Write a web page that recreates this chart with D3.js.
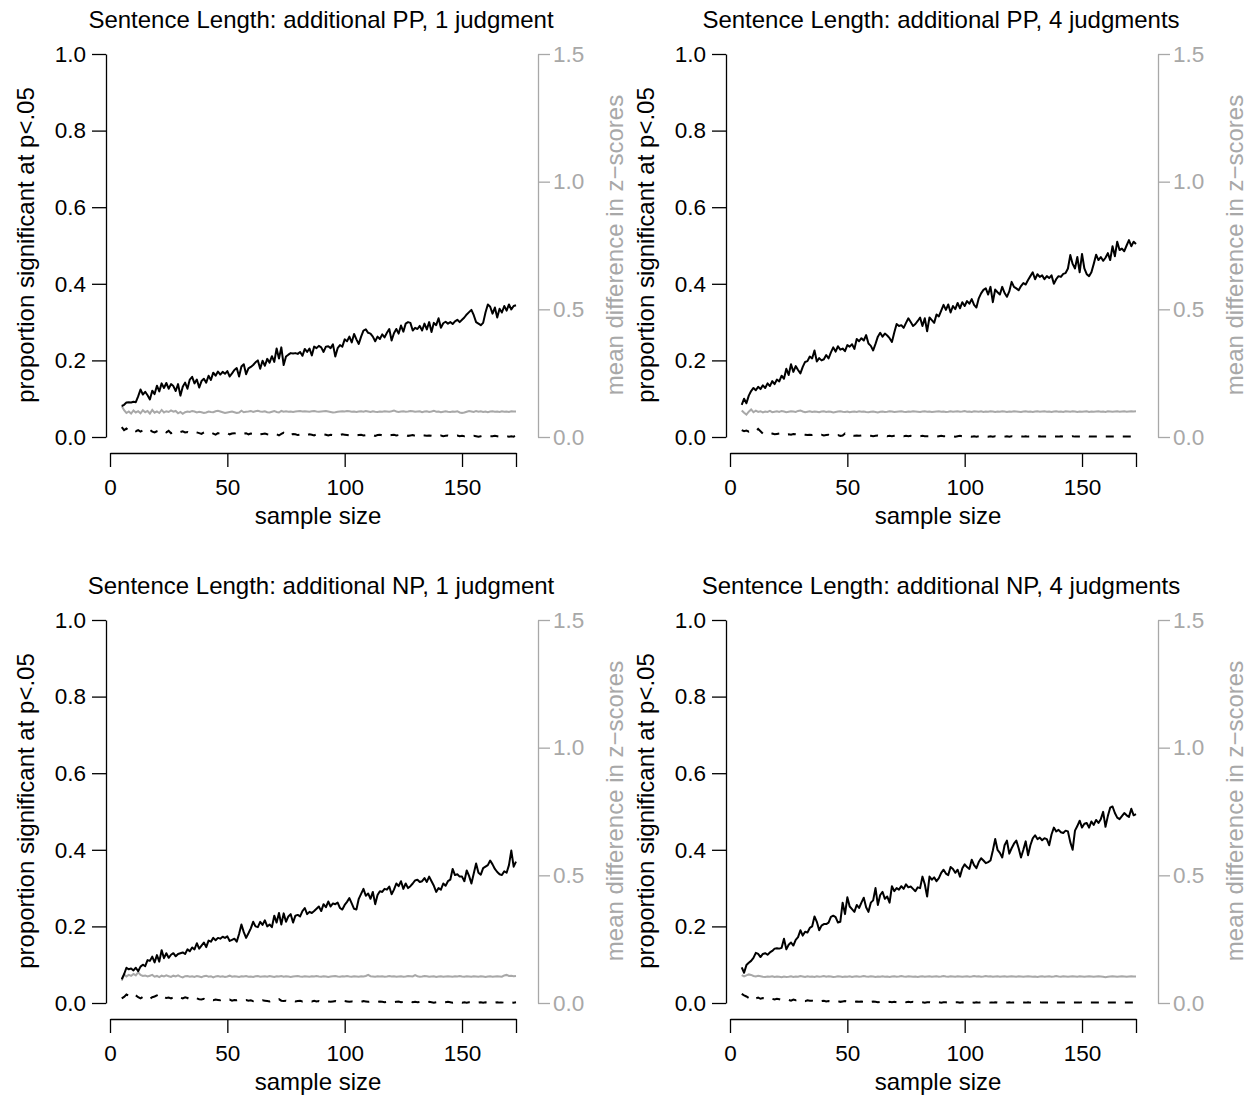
<!DOCTYPE html>
<html>
<head>
<meta charset="utf-8">
<script src="https://cdn.jsdelivr.net/npm/d3@7"></script>
<style>
  body { margin: 0; background: #fff; }
  text { font-family: "Liberation Sans", Arial, Helvetica, sans-serif; }
</style>
</head>
<body>
<script>
// sample sizes run 5..173 in every panel
const sampleSizes = d3.range(5, 174);

const titles = [
    "Sentence Length: additional PP, 1 judgment",
    "Sentence Length: additional PP, 4 judgments",
    "Sentence Length: additional NP, 1 judgment",
    "Sentence Length: additional NP, 4 judgments"
];

const leftTicks = [0, 0.2, 0.4, 0.6, 0.8, 1.0];
const rightTicks = [0, 0.5, 1.0, 1.5];
const xTicks = [0, 50, 100, 150, 173];

// proportion significant (black solid)
const pp1Sig = [
    0.081, 0.084, 0.090, 0.091, 0.090, 0.092, 0.091, 0.106, 0.124, 0.111,
    0.118, 0.109, 0.098, 0.121, 0.112, 0.134, 0.119, 0.140, 0.128, 0.141,
    0.126, 0.138, 0.133, 0.120, 0.138, 0.108, 0.131, 0.142, 0.126, 0.150,
    0.157, 0.140, 0.150, 0.129, 0.146, 0.152, 0.142, 0.160, 0.149, 0.168,
    0.160, 0.171, 0.163, 0.170, 0.165, 0.172, 0.158, 0.166, 0.175, 0.180,
    0.158, 0.184, 0.190, 0.164, 0.179, 0.183, 0.188, 0.195, 0.200, 0.178,
    0.199, 0.186, 0.204, 0.194, 0.211, 0.196, 0.231, 0.205, 0.234, 0.188,
    0.210, 0.215, 0.219, 0.218, 0.219, 0.217, 0.222, 0.212, 0.230, 0.222,
    0.231, 0.213, 0.236, 0.232, 0.238, 0.234, 0.222, 0.236, 0.237, 0.232,
    0.242, 0.210, 0.232, 0.240, 0.236, 0.255, 0.250, 0.262, 0.247, 0.269,
    0.255, 0.243, 0.262, 0.278, 0.281, 0.272, 0.270, 0.262, 0.250, 0.262,
    0.256, 0.268, 0.260, 0.272, 0.282, 0.252, 0.271, 0.282, 0.270, 0.291,
    0.275, 0.296, 0.300, 0.298, 0.278, 0.285, 0.282, 0.290, 0.278, 0.296,
    0.281, 0.300, 0.274, 0.298, 0.292, 0.310, 0.285, 0.297, 0.301, 0.296,
    0.300, 0.295, 0.302, 0.306, 0.300, 0.306, 0.312, 0.320, 0.326, 0.332,
    0.318, 0.300, 0.296, 0.292, 0.298, 0.325, 0.346, 0.340, 0.322, 0.338,
    0.312, 0.335, 0.325, 0.342, 0.330, 0.346, 0.333, 0.342, 0.344
];
const pp4Sig = [
    0.084, 0.100, 0.088, 0.108, 0.120, 0.128, 0.122, 0.131, 0.125, 0.135,
    0.128, 0.140, 0.133, 0.146, 0.138, 0.150, 0.145, 0.160, 0.152, 0.178,
    0.162, 0.190, 0.170, 0.185, 0.175, 0.166, 0.183, 0.196, 0.198, 0.210,
    0.205, 0.226, 0.197, 0.206, 0.200, 0.203, 0.214, 0.205, 0.221, 0.234,
    0.223, 0.237, 0.228, 0.231, 0.224, 0.240, 0.236, 0.242, 0.230, 0.256,
    0.250, 0.258, 0.252, 0.266, 0.244, 0.238, 0.226, 0.243, 0.262, 0.272,
    0.262, 0.270, 0.265, 0.258, 0.248, 0.273, 0.295, 0.290, 0.292, 0.285,
    0.298, 0.310, 0.300, 0.290, 0.295, 0.303, 0.312, 0.290, 0.310, 0.276,
    0.312, 0.305, 0.298, 0.320, 0.315, 0.330, 0.345, 0.332, 0.346, 0.325,
    0.342, 0.334, 0.350, 0.336, 0.352, 0.342, 0.355, 0.348, 0.360, 0.345,
    0.338, 0.362, 0.375, 0.384, 0.388, 0.372, 0.392, 0.352, 0.385, 0.378,
    0.372, 0.392, 0.376, 0.366, 0.380, 0.405, 0.392, 0.388, 0.383, 0.394,
    0.402, 0.398, 0.410, 0.420, 0.430, 0.412, 0.425, 0.418, 0.422, 0.412,
    0.420, 0.415, 0.422, 0.400, 0.412, 0.420, 0.418, 0.426, 0.428, 0.440,
    0.475, 0.452, 0.440, 0.470, 0.430, 0.478, 0.440, 0.425, 0.420, 0.430,
    0.452, 0.476, 0.462, 0.470, 0.460, 0.468, 0.480, 0.462, 0.498, 0.472,
    0.510, 0.488, 0.492, 0.485, 0.500, 0.514, 0.498, 0.510, 0.504
];
const np1Sig = [
    0.062, 0.075, 0.092, 0.088, 0.090, 0.085, 0.092, 0.083, 0.095, 0.100,
    0.096, 0.112, 0.110, 0.121, 0.106, 0.125, 0.108, 0.138, 0.117, 0.130,
    0.118, 0.126, 0.130, 0.122, 0.128, 0.130, 0.132, 0.128, 0.140, 0.135,
    0.145, 0.140, 0.156, 0.142, 0.150, 0.158, 0.146, 0.163, 0.160, 0.170,
    0.164, 0.170, 0.168, 0.173, 0.170, 0.174, 0.162, 0.165, 0.168, 0.160,
    0.180, 0.205, 0.185, 0.170, 0.182, 0.195, 0.212, 0.200, 0.198, 0.212,
    0.204, 0.216, 0.200, 0.205, 0.198, 0.228, 0.210, 0.235, 0.205, 0.234,
    0.212, 0.226, 0.232, 0.210, 0.228, 0.230, 0.226, 0.240, 0.248, 0.232,
    0.238, 0.235, 0.240, 0.246, 0.252, 0.240, 0.258, 0.250, 0.265, 0.252,
    0.260, 0.258, 0.262, 0.248, 0.244, 0.256, 0.264, 0.274, 0.260, 0.246,
    0.244, 0.272, 0.285, 0.298, 0.280, 0.286, 0.272, 0.290, 0.258, 0.282,
    0.292, 0.290, 0.298, 0.296, 0.304, 0.284, 0.296, 0.312, 0.305, 0.318,
    0.298, 0.312, 0.300, 0.305, 0.312, 0.320, 0.322, 0.316, 0.318, 0.326,
    0.316, 0.330, 0.318, 0.306, 0.290, 0.300, 0.296, 0.312, 0.306, 0.318,
    0.322, 0.350, 0.334, 0.336, 0.330, 0.330, 0.318, 0.346, 0.332, 0.312,
    0.338, 0.364, 0.340, 0.335, 0.352, 0.356, 0.360, 0.372, 0.362, 0.350,
    0.342, 0.336, 0.334, 0.344, 0.340, 0.360, 0.398, 0.356, 0.369
];
const np4Sig = [
    0.093, 0.079, 0.099, 0.105, 0.110, 0.118, 0.131, 0.128, 0.120, 0.128,
    0.130, 0.126, 0.132, 0.136, 0.142, 0.143, 0.142, 0.144, 0.168, 0.140,
    0.152, 0.158, 0.150, 0.165, 0.172, 0.190, 0.176, 0.186, 0.184, 0.196,
    0.200, 0.226, 0.212, 0.190, 0.202, 0.206, 0.206, 0.210, 0.225, 0.228,
    0.224, 0.210, 0.212, 0.262, 0.232, 0.276, 0.252, 0.245, 0.238, 0.256,
    0.248, 0.262, 0.275, 0.250, 0.238, 0.262, 0.268, 0.300, 0.256, 0.282,
    0.290, 0.272, 0.278, 0.262, 0.305, 0.292, 0.300, 0.296, 0.305, 0.298,
    0.310, 0.302, 0.304, 0.298, 0.292, 0.302, 0.300, 0.330, 0.310, 0.278,
    0.330, 0.322, 0.328, 0.318, 0.326, 0.340, 0.348, 0.338, 0.334, 0.355,
    0.350, 0.340, 0.348, 0.330, 0.352, 0.362, 0.355, 0.350, 0.374, 0.360,
    0.352, 0.368, 0.378, 0.372, 0.365, 0.368, 0.372, 0.398, 0.428, 0.400,
    0.392, 0.380, 0.412, 0.424, 0.390, 0.404, 0.416, 0.424, 0.404, 0.380,
    0.400, 0.422, 0.386, 0.412, 0.430, 0.438, 0.428, 0.432, 0.425, 0.430,
    0.428, 0.412, 0.440, 0.458, 0.448, 0.452, 0.446, 0.444, 0.450, 0.448,
    0.420, 0.400, 0.450, 0.462, 0.476, 0.458, 0.468, 0.470, 0.458, 0.474,
    0.465, 0.478, 0.470, 0.480, 0.499, 0.460, 0.488, 0.510, 0.513, 0.496,
    0.484, 0.480, 0.488, 0.496, 0.490, 0.486, 0.507, 0.490, 0.493
];

// mean difference in z-scores (gray, right axis)
const pp1Diff = [
    0.121, 0.105, 0.094, 0.100, 0.092, 0.104, 0.096, 0.101, 0.093, 0.105,
    0.097, 0.102, 0.092, 0.106, 0.095, 0.100, 0.094, 0.106, 0.096, 0.101,
    0.098, 0.104, 0.099, 0.102, 0.093, 0.098, 0.091, 0.097, 0.100, 0.098,
    0.102, 0.100, 0.096, 0.099, 0.097, 0.094, 0.096, 0.100, 0.098, 0.097,
    0.101, 0.103, 0.100, 0.097, 0.094, 0.096, 0.098, 0.100, 0.097, 0.094,
    0.096, 0.103, 0.097, 0.099, 0.100, 0.102, 0.098, 0.101, 0.103, 0.100,
    0.099, 0.101, 0.097, 0.096, 0.099, 0.102, 0.098, 0.096, 0.102, 0.099,
    0.101, 0.099, 0.100, 0.098, 0.100, 0.101, 0.102, 0.100, 0.101, 0.100,
    0.099, 0.101, 0.102, 0.100, 0.099, 0.100, 0.101, 0.102, 0.100, 0.098,
    0.096, 0.097, 0.099, 0.100, 0.101, 0.100, 0.102, 0.101, 0.099, 0.100,
    0.098, 0.100, 0.101, 0.099, 0.102, 0.100, 0.098, 0.101, 0.099, 0.098,
    0.100, 0.099, 0.101, 0.100, 0.099, 0.101, 0.104, 0.100, 0.098, 0.100,
    0.101, 0.099, 0.100, 0.102, 0.101, 0.099, 0.100, 0.101, 0.097, 0.100,
    0.101, 0.098, 0.100, 0.103, 0.099, 0.100, 0.097, 0.099, 0.101, 0.099,
    0.098, 0.100, 0.099, 0.101, 0.096, 0.094, 0.096, 0.099, 0.102, 0.100,
    0.098, 0.102, 0.099, 0.101, 0.098, 0.100, 0.097, 0.100, 0.101, 0.099,
    0.100, 0.098, 0.101, 0.099, 0.100, 0.098, 0.101, 0.100, 0.100
];
const pp4Diff = [
    0.104, 0.095, 0.088, 0.099, 0.108, 0.097, 0.103, 0.098, 0.101, 0.096,
    0.100, 0.098, 0.102, 0.097, 0.099, 0.101, 0.098, 0.102, 0.100, 0.097,
    0.099, 0.101, 0.100, 0.098, 0.102, 0.104, 0.100, 0.097, 0.099, 0.101,
    0.098, 0.100, 0.099, 0.097, 0.100, 0.101, 0.098, 0.100, 0.099, 0.096,
    0.098, 0.100, 0.101, 0.099, 0.098, 0.100, 0.097, 0.099, 0.100, 0.098,
    0.101, 0.099, 0.100, 0.098, 0.097, 0.099, 0.100, 0.098, 0.096, 0.099,
    0.100, 0.098, 0.099, 0.101, 0.100, 0.098, 0.099, 0.100, 0.101, 0.099,
    0.098, 0.100, 0.099, 0.101, 0.100, 0.099, 0.098, 0.100, 0.101, 0.099,
    0.100, 0.098, 0.099, 0.100, 0.101, 0.099, 0.100, 0.098, 0.099, 0.101,
    0.099, 0.100, 0.101, 0.099, 0.100, 0.102, 0.099, 0.100, 0.098, 0.101,
    0.100, 0.099, 0.101, 0.098, 0.100, 0.099, 0.101, 0.100, 0.098, 0.100,
    0.099, 0.101, 0.100, 0.098, 0.100, 0.099, 0.101, 0.100, 0.099, 0.098,
    0.100, 0.101, 0.099, 0.100, 0.098, 0.100, 0.101, 0.099, 0.100, 0.101,
    0.099, 0.100, 0.098, 0.100, 0.101, 0.099, 0.100, 0.098, 0.101, 0.100,
    0.099, 0.101, 0.100, 0.098, 0.100, 0.099, 0.100, 0.101, 0.098, 0.100,
    0.099, 0.100, 0.101, 0.099, 0.100, 0.098, 0.101, 0.100, 0.099, 0.100,
    0.101, 0.099, 0.100, 0.101, 0.099, 0.100, 0.101, 0.100, 0.101
];
const np1Diff = [
    0.088, 0.112, 0.104, 0.110, 0.106, 0.114, 0.108, 0.120, 0.110, 0.106,
    0.108, 0.104, 0.107, 0.110, 0.103, 0.106, 0.101, 0.107, 0.104, 0.108,
    0.105, 0.102, 0.107, 0.104, 0.108, 0.103, 0.100, 0.105, 0.106, 0.103,
    0.105, 0.102, 0.106, 0.104, 0.101, 0.105, 0.107, 0.103, 0.105, 0.100,
    0.104, 0.106, 0.103, 0.105, 0.102, 0.104, 0.107, 0.103, 0.105, 0.104,
    0.102, 0.105, 0.104, 0.106, 0.103, 0.104, 0.102, 0.105, 0.106, 0.103,
    0.104, 0.105, 0.103, 0.106, 0.104, 0.102, 0.105, 0.104, 0.106, 0.103,
    0.105, 0.104, 0.102, 0.104, 0.105, 0.106, 0.104, 0.103, 0.105, 0.104,
    0.103, 0.105, 0.104, 0.106, 0.104, 0.103, 0.105, 0.104, 0.102, 0.104,
    0.105, 0.106, 0.104, 0.103, 0.105, 0.104, 0.106, 0.104, 0.103, 0.105,
    0.104, 0.103, 0.105, 0.104, 0.106, 0.110, 0.105, 0.104, 0.103, 0.105,
    0.104, 0.105, 0.103, 0.104, 0.106, 0.104, 0.105, 0.103, 0.104, 0.105,
    0.103, 0.104, 0.106, 0.105, 0.104, 0.109, 0.105, 0.103, 0.104, 0.106,
    0.105, 0.103, 0.104, 0.105, 0.102, 0.104, 0.105, 0.103, 0.104, 0.105,
    0.104, 0.103, 0.105, 0.104, 0.106, 0.104, 0.103, 0.105, 0.104, 0.103,
    0.105, 0.104, 0.103, 0.105, 0.104, 0.102, 0.104, 0.105, 0.103, 0.104,
    0.105, 0.104, 0.103, 0.108, 0.110, 0.106, 0.107, 0.105, 0.106
];
const np4Diff = [
    0.109, 0.104, 0.108, 0.112, 0.110, 0.106, 0.104, 0.107, 0.105, 0.103,
    0.102, 0.104, 0.103, 0.105, 0.102, 0.104, 0.103, 0.101, 0.104, 0.102,
    0.103, 0.105, 0.102, 0.104, 0.103, 0.106, 0.104, 0.102, 0.105, 0.103,
    0.104, 0.102, 0.105, 0.103, 0.104, 0.106, 0.103, 0.105, 0.104, 0.102,
    0.103, 0.105, 0.104, 0.102, 0.104, 0.103, 0.105, 0.102, 0.104, 0.105,
    0.103, 0.104, 0.106, 0.104, 0.103, 0.105, 0.104, 0.102, 0.104, 0.103,
    0.105, 0.103, 0.104, 0.102, 0.104, 0.105, 0.103, 0.104, 0.106, 0.104,
    0.103, 0.105, 0.104, 0.103, 0.104, 0.102, 0.104, 0.105, 0.103, 0.104,
    0.105, 0.103, 0.104, 0.105, 0.103, 0.104, 0.106, 0.104, 0.103, 0.105,
    0.104, 0.103, 0.105, 0.104, 0.103, 0.104, 0.105, 0.103, 0.104, 0.106,
    0.104, 0.105, 0.103, 0.104, 0.106, 0.104, 0.105, 0.103, 0.104, 0.105,
    0.103, 0.104, 0.105, 0.103, 0.104, 0.105, 0.104, 0.103, 0.105, 0.104,
    0.103, 0.104, 0.105, 0.104, 0.103, 0.104, 0.102, 0.104, 0.105, 0.103,
    0.104, 0.105, 0.103, 0.104, 0.106, 0.104, 0.103, 0.105, 0.104, 0.103,
    0.104, 0.105, 0.104, 0.103, 0.105, 0.104, 0.103, 0.104, 0.105, 0.104,
    0.103, 0.104, 0.105, 0.104, 0.103, 0.101, 0.103, 0.104, 0.105, 0.104,
    0.103, 0.104, 0.105, 0.104, 0.103, 0.104, 0.105, 0.104, 0.104
];

// proportion significant under the null (black dashed)
const pp1Null = [
    0.026, 0.018, 0.022, 0.017, 0.016, 0.019, 0.015, 0.018, 0.014, 0.017,
    0.018, 0.015, 0.019, 0.014, 0.012, 0.015, 0.017, 0.013, 0.015, 0.012,
    0.016, 0.010, 0.013, 0.014, 0.011, 0.013, 0.015, 0.012, 0.013, 0.010,
    0.011, 0.013, 0.012, 0.010, 0.008, 0.012, 0.014, 0.011, 0.012, 0.009,
    0.006, 0.010, 0.008, 0.009, 0.011, 0.010, 0.007, 0.009, 0.010, 0.008,
    0.010, 0.008, 0.009, 0.010, 0.007, 0.009, 0.008, 0.006, 0.009, 0.007,
    0.008, 0.009, 0.007, 0.006, 0.008, 0.009, 0.007, 0.004, 0.008, 0.011,
    0.006, 0.003, 0.006, 0.008, 0.007, 0.005, 0.006, 0.008, 0.006, 0.005,
    0.007, 0.006, 0.004, 0.007, 0.006, 0.005, 0.007, 0.006, 0.004, 0.006,
    0.005, 0.006, 0.004, 0.005, 0.007, 0.006, 0.005, 0.004, 0.006, 0.005,
    0.004, 0.005, 0.006, 0.004, 0.005, 0.006, 0.004, 0.005, 0.003, 0.005,
    0.006, 0.004, 0.005, 0.003, 0.004, 0.005, 0.006, 0.004, 0.005, 0.003,
    0.004, 0.005, 0.003, 0.004, 0.005, 0.003, 0.004, 0.003, 0.005, 0.004,
    0.003, 0.004, 0.003, 0.002, 0.004, 0.003, 0.004, 0.002, 0.003, 0.004,
    0.003, 0.002, 0.003, 0.004, 0.002, 0.003, 0.002, 0.003, 0.004, 0.002,
    0.003, 0.002, 0.001, 0.002, 0.003, 0.002, 0.003, 0.002, 0.002, 0.003,
    0.002, 0.001, 0.002, 0.003, 0.002, 0.001, 0.002, 0.001, 0.004
];
const pp4Null = [
    0.018, 0.015, 0.017, 0.014, 0.016, 0.013, 0.015, 0.021, 0.015, 0.009,
    0.008, 0.010, 0.008, 0.009, 0.007, 0.008, 0.009, 0.007, 0.008, 0.006,
    0.007, 0.006, 0.008, 0.007, 0.006, 0.005, 0.007, 0.006, 0.005, 0.006,
    0.005, 0.006, 0.004, 0.005, 0.006, 0.004, 0.005, 0.006, 0.004, 0.005,
    0.004, 0.005, 0.003, 0.004, 0.009, 0.005, 0.003, 0.004, 0.003, 0.004,
    0.003, 0.004, 0.003, 0.002, 0.004, 0.003, 0.002, 0.003, 0.004, 0.003,
    0.002, 0.003, 0.002, 0.003, 0.002, 0.003, 0.004, 0.002, 0.003, 0.002,
    0.003, 0.002, 0.003, 0.002, 0.002, 0.003, 0.002, 0.003, 0.002, 0.002,
    0.002, 0.003, 0.002, 0.001, 0.002, 0.003, 0.002, 0.002, 0.001, 0.002,
    0.002, 0.001, 0.002, 0.003, 0.002, 0.001, 0.002, 0.002, 0.001, 0.002,
    0.001, 0.002, 0.002, 0.001, 0.002, 0.001, 0.002, 0.001, 0.002, 0.001,
    0.002, 0.001, 0.001, 0.002, 0.001, 0.002, 0.001, 0.001, 0.002, 0.001,
    0.001, 0.002, 0.001, 0.001, 0.002, 0.001, 0.001, 0.002, 0.001, 0.001,
    0.001, 0.001, 0.002, 0.001, 0.001, 0.001, 0.002, 0.001, 0.001, 0.001,
    0.001, 0.002, 0.001, 0.001, 0.001, 0.001, 0.001, 0.002, 0.001, 0.001,
    0.001, 0.001, 0.001, 0.001, 0.002, 0.001, 0.001, 0.001, 0.001, 0.001,
    0.001, 0.001, 0.001, 0.001, 0.001, 0.001, 0.001, 0.001, 0.001
];
const np1Null = [
    0.012, 0.016, 0.022, 0.019, 0.014, 0.017, 0.020, 0.015, 0.012, 0.016,
    0.018, 0.014, 0.011, 0.015, 0.017, 0.020, 0.024, 0.021, 0.015, 0.013,
    0.014, 0.012, 0.015, 0.013, 0.011, 0.014, 0.012, 0.015, 0.013, 0.010,
    0.008, 0.011, 0.012, 0.010, 0.009, 0.011, 0.008, 0.010, 0.009, 0.007,
    0.009, 0.008, 0.007, 0.009, 0.008, 0.007, 0.009, 0.006, 0.008, 0.007,
    0.008, 0.006, 0.007, 0.008, 0.006, 0.007, 0.005, 0.007, 0.006, 0.005,
    0.007, 0.006, 0.005, 0.004, 0.006, 0.005, 0.007, 0.010, 0.006, 0.005,
    0.006, 0.004, 0.005, 0.006, 0.004, 0.005, 0.006, 0.004, 0.005, 0.004,
    0.005, 0.004, 0.006, 0.004, 0.005, 0.003, 0.004, 0.005, 0.004, 0.003,
    0.004, 0.005, 0.003, 0.004, 0.003, 0.005, 0.004, 0.003, 0.004, 0.003,
    0.003, 0.004, 0.003, 0.005, 0.004, 0.003, 0.004, 0.003, 0.002, 0.003,
    0.004, 0.003, 0.002, 0.003, 0.004, 0.003, 0.002, 0.003, 0.004, 0.002,
    0.003, 0.002, 0.003, 0.004, 0.002, 0.003, 0.002, 0.003, 0.002, 0.003,
    0.002, 0.003, 0.002, 0.001, 0.002, 0.003, 0.002, 0.001, 0.002, 0.003,
    0.002, 0.001, 0.002, 0.003, 0.002, 0.001, 0.002, 0.001, 0.002, 0.002,
    0.001, 0.002, 0.001, 0.002, 0.001, 0.002, 0.001, 0.001, 0.002, 0.001,
    0.002, 0.001, 0.001, 0.002, 0.001, 0.001, 0.002, 0.001, 0.002
];
const np4Null = [
    0.024, 0.020, 0.017, 0.013, 0.018, 0.016, 0.012, 0.014, 0.011, 0.013,
    0.012, 0.010, 0.012, 0.011, 0.009, 0.011, 0.010, 0.008, 0.010, 0.009,
    0.008, 0.006, 0.009, 0.007, 0.008, 0.006, 0.007, 0.005, 0.007, 0.006,
    0.006, 0.005, 0.006, 0.004, 0.005, 0.006, 0.004, 0.005, 0.004, 0.005,
    0.004, 0.005, 0.003, 0.004, 0.005, 0.004, 0.003, 0.004, 0.003, 0.004,
    0.003, 0.004, 0.003, 0.004, 0.002, 0.003, 0.004, 0.003, 0.002, 0.003,
    0.004, 0.003, 0.002, 0.003, 0.002, 0.003, 0.002, 0.003, 0.002, 0.003,
    0.002, 0.003, 0.002, 0.003, 0.002, 0.002, 0.003, 0.002, 0.001, 0.002,
    0.002, 0.001, 0.002, 0.003, 0.002, 0.001, 0.002, 0.002, 0.001, 0.002,
    0.001, 0.002, 0.002, 0.001, 0.002, 0.001, 0.002, 0.001, 0.002, 0.001,
    0.002, 0.001, 0.001, 0.002, 0.001, 0.002, 0.001, 0.001, 0.002, 0.001,
    0.001, 0.002, 0.001, 0.001, 0.002, 0.001, 0.001, 0.001, 0.002, 0.001,
    0.001, 0.001, 0.002, 0.001, 0.001, 0.001, 0.001, 0.002, 0.001, 0.001,
    0.001, 0.001, 0.001, 0.002, 0.001, 0.001, 0.001, 0.001, 0.001, 0.001,
    0.001, 0.001, 0.001, 0.001, 0.001, 0.002, 0.001, 0.001, 0.001, 0.001,
    0.001, 0.001, 0.001, 0.001, 0.001, 0.001, 0.001, 0.001, 0.001, 0.001,
    0.001, 0.001, 0.001, 0.001, 0.001, 0.001, 0.001, 0.001, 0.001
];

const panels = [
    {title: titles[0], sig: pp1Sig, diff: pp1Diff, nul: pp1Null, dx: 0, dy: 0},
    {title: titles[1], sig: pp4Sig, diff: pp4Diff, nul: pp4Null, dx: 620, dy: 0},
    {title: titles[2], sig: np1Sig, diff: np1Diff, nul: np1Null, dx: 0, dy: 566},
    {title: titles[3], sig: np4Sig, diff: np4Diff, nul: np4Null, dx: 620, dy: 566}
];

const width = 1253, height = 1097;
const gray = "#a8a8a8";
const labelSize = 24;
const tickSize = 22.5;

const svg = d3.select("body").append("svg")
    .attr("width", width)
    .attr("height", height);

const x = d3.scaleLinear().domain([0, 173]).range([110, 516]);
const yLeft = d3.scaleLinear().domain([0, 1]).range([437, 54]);
const yRight = d3.scaleLinear().domain([0, 1.5]).range([437, 54]);

function styleAxis(g, color) {
    g.attr("font-family", null)
        .attr("font-size", null)
        .attr("color", color)
        .style("font-size", tickSize + "px");
    g.selectAll("path, line").attr("stroke-width", 1.3);
    g.selectAll("text").attr("fill", color);
}

function drawPanel(p) {
    const g = svg.append("g").attr("transform", `translate(${p.dx},${p.dy})`);

    g.append("text")
        .attr("x", 321)
        .attr("y", 28)
        .attr("text-anchor", "middle")
        .style("font-size", labelSize + "px")
        .text(p.title);

    // left axis
    g.append("g")
        .attr("transform", "translate(106,0)")
        .call(d3.axisLeft(yLeft).tickValues(leftTicks).tickFormat(d3.format(".1f"))
            .tickSize(14).tickSizeOuter(0).tickPadding(6))
        .call(a => styleAxis(a, "#000"));

    // right axis
    g.append("g")
        .attr("transform", "translate(538,0)")
        .call(d3.axisRight(yRight).tickValues(rightTicks).tickFormat(d3.format(".1f"))
            .tickSize(12).tickSizeOuter(0).tickPadding(3))
        .call(a => styleAxis(a, gray));

    // bottom axis
    g.append("g")
        .attr("transform", "translate(0,453)")
        .call(d3.axisBottom(x).tickValues(xTicks).tickFormat(d => d === 173 ? "" : d)
            .tickSize(14).tickSizeOuter(0).tickPadding(12))
        .call(a => styleAxis(a, "#000"));

    g.append("text")
        .attr("x", 318)
        .attr("y", 524)
        .attr("text-anchor", "middle")
        .style("font-size", labelSize + "px")
        .text("sample size");

    g.append("text")
        .attr("transform", "translate(34,245) rotate(-90)")
        .attr("text-anchor", "middle")
        .style("font-size", labelSize + "px")
        .text("proportion significant at p<.05");

    g.append("text")
        .attr("transform", "translate(623,245) rotate(-90)")
        .attr("text-anchor", "middle")
        .style("font-size", labelSize + "px")
        .attr("fill", gray)
        .text("mean difference in z\u2212scores");

    const lineL = d3.line()
        .x((d, i) => x(sampleSizes[i]))
        .y(d => yLeft(d));
    const lineR = d3.line()
        .x((d, i) => x(sampleSizes[i]))
        .y(d => yRight(d));

    g.append("path")
        .attr("d", lineR(p.diff))
        .attr("fill", "none")
        .attr("stroke", gray)
        .attr("stroke-width", 2);

    g.append("path")
        .attr("d", lineL(p.nul))
        .attr("fill", "none")
        .attr("stroke", "#000")
        .attr("stroke-width", 2)
        .attr("stroke-dasharray", "8,9");

    g.append("path")
        .attr("d", lineL(p.sig))
        .attr("fill", "none")
        .attr("stroke", "#000")
        .attr("stroke-width", 2)
        .attr("stroke-linejoin", "round");
}

panels.forEach(drawPanel);
</script>
</body>
</html>
